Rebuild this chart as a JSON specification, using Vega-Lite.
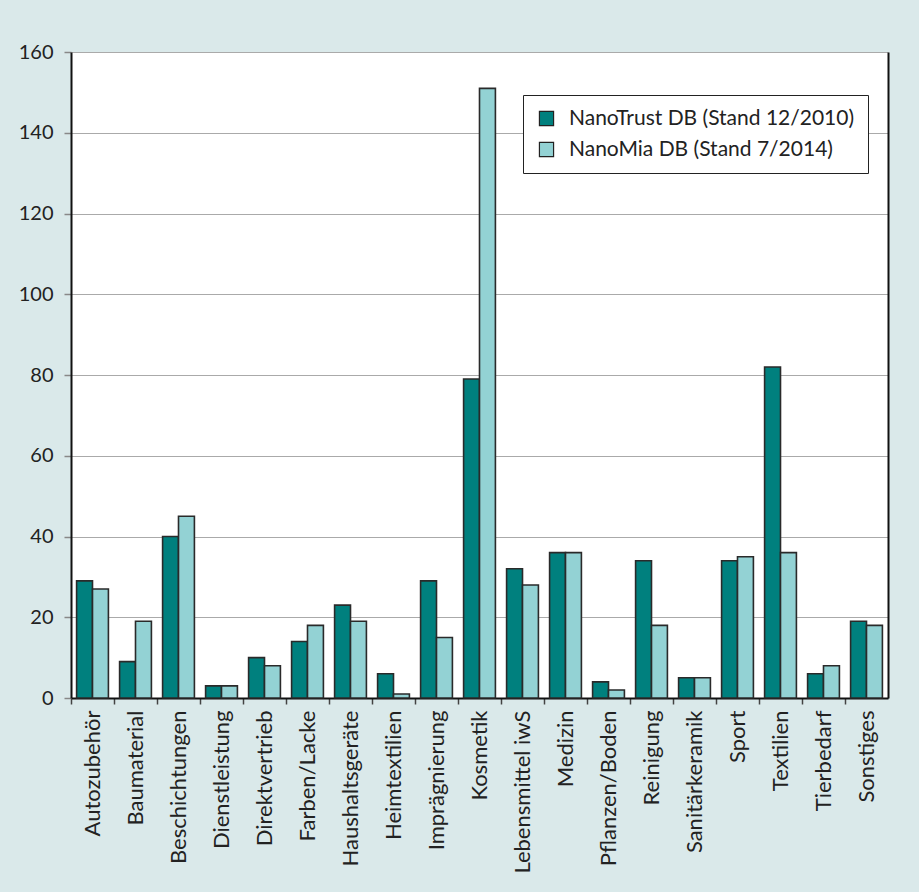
{
  "$schema": "https://vega.github.io/schema/vega-lite/v6.json",
  "width": 817,
  "height": 646,
  "autosize": {"type": "none"},
  "padding": {"left": 71, "top": 52, "right": 31, "bottom": 194},
  "background": "#dae9ea",
  "config": {
    "view": {"stroke": null, "fill": "white"},
    "font": "Lato"
  },
  "data": {
    "values": [
      {"k": "Autozubehör", "s": "NanoTrust DB (Stand 12/2010)", "v": 29},
      {"k": "Autozubehör", "s": "NanoMia DB (Stand 7/2014)", "v": 27},
      {"k": "Baumaterial", "s": "NanoTrust DB (Stand 12/2010)", "v": 9},
      {"k": "Baumaterial", "s": "NanoMia DB (Stand 7/2014)", "v": 19},
      {"k": "Beschichtungen", "s": "NanoTrust DB (Stand 12/2010)", "v": 40},
      {"k": "Beschichtungen", "s": "NanoMia DB (Stand 7/2014)", "v": 45},
      {"k": "Dienstleistung", "s": "NanoTrust DB (Stand 12/2010)", "v": 3},
      {"k": "Dienstleistung", "s": "NanoMia DB (Stand 7/2014)", "v": 3},
      {"k": "Direktvertrieb", "s": "NanoTrust DB (Stand 12/2010)", "v": 10},
      {"k": "Direktvertrieb", "s": "NanoMia DB (Stand 7/2014)", "v": 8},
      {"k": "Farben/Lacke", "s": "NanoTrust DB (Stand 12/2010)", "v": 14},
      {"k": "Farben/Lacke", "s": "NanoMia DB (Stand 7/2014)", "v": 18},
      {"k": "Haushaltsgeräte", "s": "NanoTrust DB (Stand 12/2010)", "v": 23},
      {"k": "Haushaltsgeräte", "s": "NanoMia DB (Stand 7/2014)", "v": 19},
      {"k": "Heimtextilien", "s": "NanoTrust DB (Stand 12/2010)", "v": 6},
      {"k": "Heimtextilien", "s": "NanoMia DB (Stand 7/2014)", "v": 1},
      {"k": "Imprägnierung", "s": "NanoTrust DB (Stand 12/2010)", "v": 29},
      {"k": "Imprägnierung", "s": "NanoMia DB (Stand 7/2014)", "v": 15},
      {"k": "Kosmetik", "s": "NanoTrust DB (Stand 12/2010)", "v": 79},
      {"k": "Kosmetik", "s": "NanoMia DB (Stand 7/2014)", "v": 151},
      {"k": "Lebensmittel iwS", "s": "NanoTrust DB (Stand 12/2010)", "v": 32},
      {"k": "Lebensmittel iwS", "s": "NanoMia DB (Stand 7/2014)", "v": 28},
      {"k": "Medizin", "s": "NanoTrust DB (Stand 12/2010)", "v": 36},
      {"k": "Medizin", "s": "NanoMia DB (Stand 7/2014)", "v": 36},
      {"k": "Pflanzen/Boden", "s": "NanoTrust DB (Stand 12/2010)", "v": 4},
      {"k": "Pflanzen/Boden", "s": "NanoMia DB (Stand 7/2014)", "v": 2},
      {"k": "Reinigung", "s": "NanoTrust DB (Stand 12/2010)", "v": 34},
      {"k": "Reinigung", "s": "NanoMia DB (Stand 7/2014)", "v": 18},
      {"k": "Sanitärkeramik", "s": "NanoTrust DB (Stand 12/2010)", "v": 5},
      {"k": "Sanitärkeramik", "s": "NanoMia DB (Stand 7/2014)", "v": 5},
      {"k": "Sport", "s": "NanoTrust DB (Stand 12/2010)", "v": 34},
      {"k": "Sport", "s": "NanoMia DB (Stand 7/2014)", "v": 35},
      {"k": "Textilien", "s": "NanoTrust DB (Stand 12/2010)", "v": 82},
      {"k": "Textilien", "s": "NanoMia DB (Stand 7/2014)", "v": 36},
      {"k": "Tierbedarf", "s": "NanoTrust DB (Stand 12/2010)", "v": 6},
      {"k": "Tierbedarf", "s": "NanoMia DB (Stand 7/2014)", "v": 8},
      {"k": "Sonstiges", "s": "NanoTrust DB (Stand 12/2010)", "v": 19},
      {"k": "Sonstiges", "s": "NanoMia DB (Stand 7/2014)", "v": 18}
    ]
  },
  "layer": [
    {
      "mark": {"type": "bar", "stroke": "#2a2a2a", "strokeWidth": 1.6},
      "encoding": {
        "x": {
          "field": "k", "type": "nominal", "sort": null,
          "scale": {"paddingInner": 0.26, "paddingOuter": 0.13},
          "axis": {
            "title": null, "labelAngle": -90, "labelAlign": "right", "labelBaseline": "middle",
            "labelFont": "Lato", "labelFontSize": 22, "labelColor": "#222", "labelLimit": 300,
            "domainColor": "#111", "domainWidth": 2,
            "tickColor": "#444", "tickSize": 6, "tickWidth": 1.5,
            "tickOffset": -21.5, "labelOffset": 21.5, "labelPadding": 6
          }
        },
        "xOffset": {"field": "s", "type": "nominal", "sort": ["NanoTrust DB (Stand 12/2010)", "NanoMia DB (Stand 7/2014)"], "scale": {"paddingInner": 0, "paddingOuter": 0}},
        "y": {
          "field": "v", "type": "quantitative",
          "scale": {"domain": [0, 160], "nice": false},
          "axis": {
            "title": null, "values": [0, 20, 40, 60, 80, 100, 120, 140, 160],
            "labelFont": "Lato", "labelFontSize": 20, "labelColor": "#222",
            "domainColor": "#111", "domainWidth": 2,
            "tickColor": "#888", "tickSize": 7, "tickWidth": 1.5,
            "gridColor": "#aaa", "gridWidth": 1, "labelPadding": 11
          }
        },
        "fill": {
          "field": "s", "type": "nominal",
          "sort": ["NanoTrust DB (Stand 12/2010)", "NanoMia DB (Stand 7/2014)"],
          "scale": {"range": ["#00807e", "#93d2d4"]},
          "legend": {
            "title": null, "orient": "none", "legendX": 452, "legendY": 43,
            "fillColor": "white", "strokeColor": "#222", "padding": 13,
            "symbolType": "square", "symbolSize": 200, "symbolStrokeColor": "#222", "symbolStrokeWidth": 1.2,
            "labelFont": "Lato", "labelFontSize": 21, "labelColor": "#222", "labelLimit": 400,
            "rowPadding": 9, "labelOffset": 12
          }
        }
      }
    },
    {
      "mark": {"type": "rule", "opacity": 0},
      "encoding": {
        "y": {
          "datum": 0, "type": "quantitative",
          "axis": {"orient": "right", "title": null, "labels": false, "ticks": false, "grid": false, "domainColor": "#111", "domainWidth": 2}
        }
      }
    }
  ],
  "resolve": {"axis": {"y": "independent"}}
}
